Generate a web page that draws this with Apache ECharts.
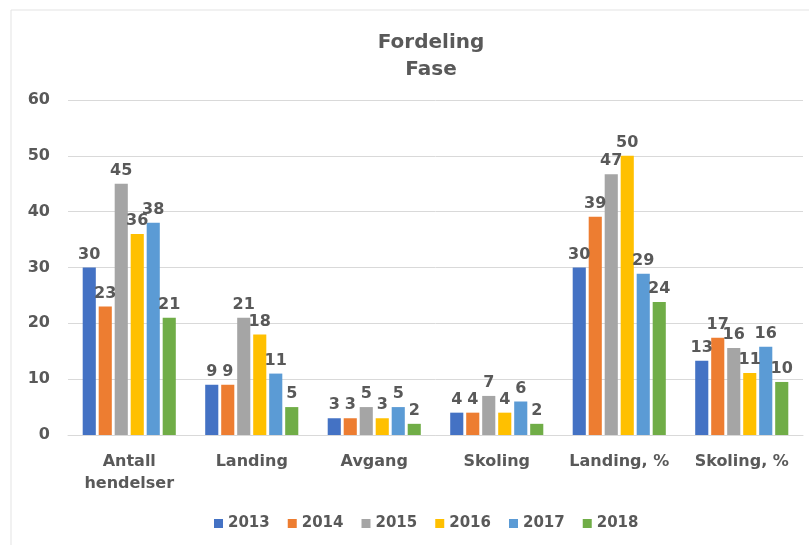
<!DOCTYPE html>
<html>
<head>
<meta charset="utf-8">
<script src="https://cdn.jsdelivr.net/npm/echarts@6/dist/echarts.min.js"></script>
<style>
  html, body { margin: 0; padding: 0; background: #fff; }
  #chart { width: 809px; height: 545px; }
</style>
</head>
<body>
<div id="chart"></div>
<script>
// data
var categories = ['Antall\nhendelser', 'Landing', 'Avgang', 'Skoling', 'Landing, %', 'Skoling, %'];
var years = ['2013', '2014', '2015', '2016', '2017', '2018'];
var v2013 = [30, 9, 3, 4, 30, 13.3];
var v2014 = [23, 9, 3, 4, 39.1, 17.4];
var v2015 = [45, 21, 5, 7, 46.7, 15.6];
var v2016 = [36, 18, 3, 4, 50, 11.1];
var v2017 = [38, 11, 5, 6, 28.9, 15.8];
var v2018 = [21, 5, 2, 2, 23.8, 9.5];
var yTicks = [0, 10, 20, 30, 40, 50, 60];

var colors = ['#4472C4', '#ED7D31', '#A5A5A5', '#FFC000', '#5B9BD5', '#70AD47'];
var textColor = '#595959';
var font = 'DejaVu Sans, sans-serif';

var myChart = echarts.init(document.getElementById('chart'));

var allValues = [v2013, v2014, v2015, v2016, v2017, v2018];
var series = [];
for (var i = 0; i < years.length; i++) {
  series.push({
    name: years[i],
    type: 'bar',
    data: allValues[i],
    barGap: '22%',
    barCategoryGap: '24%',
    itemStyle: { color: colors[i] },
    label: {
      show: true,
      position: 'top',
      distance: 5,
      color: textColor,
      fontWeight: 'bold',
      fontSize: 16,
      fontFamily: font,
      formatter: function (p) { return Math.round(p.value); }
    }
  });
}

var option = {
  color: colors,
  animation: false,
  title: {
    text: 'Fordeling\nFase',
    left: 426,
    top: 24,
    textAlign: 'center',
    textStyle: {
      color: textColor,
      fontWeight: 'bold',
      fontSize: 20,
      lineHeight: 27,
      fontFamily: font
    }
  },
  legend: {
    data: years,
    left: 209,
    top: 511,
    icon: 'rect',
    itemWidth: 9,
    itemHeight: 9,
    itemGap: 18,
    textStyle: {
      color: textColor,
      fontWeight: 'bold',
      fontSize: 15,
      fontFamily: font
    }
  },
  grid: {
    left: 68,
    right: 6,
    top: 100,
    bottom: 110,
    containLabel: false
  },
  xAxis: {
    type: 'category',
    data: categories,
    axisTick: { show: false },
    axisLine: { lineStyle: { color: '#d9d9d9' } },
    axisLabel: {
      color: textColor,
      fontWeight: 'bold',
      fontSize: 16,
      lineHeight: 22,
      margin: 16,
      fontFamily: font,
      interval: 0
    }
  },
  yAxis: {
    type: 'value',
    min: yTicks[0],
    max: yTicks[yTicks.length - 1],
    interval: 10,
    axisLine: { show: false },
    axisTick: { show: false },
    splitLine: { lineStyle: { color: '#d9d9d9' } },
    axisLabel: {
      color: textColor,
      fontWeight: 'bold',
      fontSize: 16,
      margin: 18,
      fontFamily: font
    }
  },
  graphic: [{
    type: 'rect',
    shape: { x: 11, y: 10, width: 830, height: 560 },
    style: { fill: 'none', stroke: '#e3e3e3', lineWidth: 1 },
    silent: true,
    z: -1
  }],
  series: series
};

myChart.setOption(option);
</script>
</body>
</html>
